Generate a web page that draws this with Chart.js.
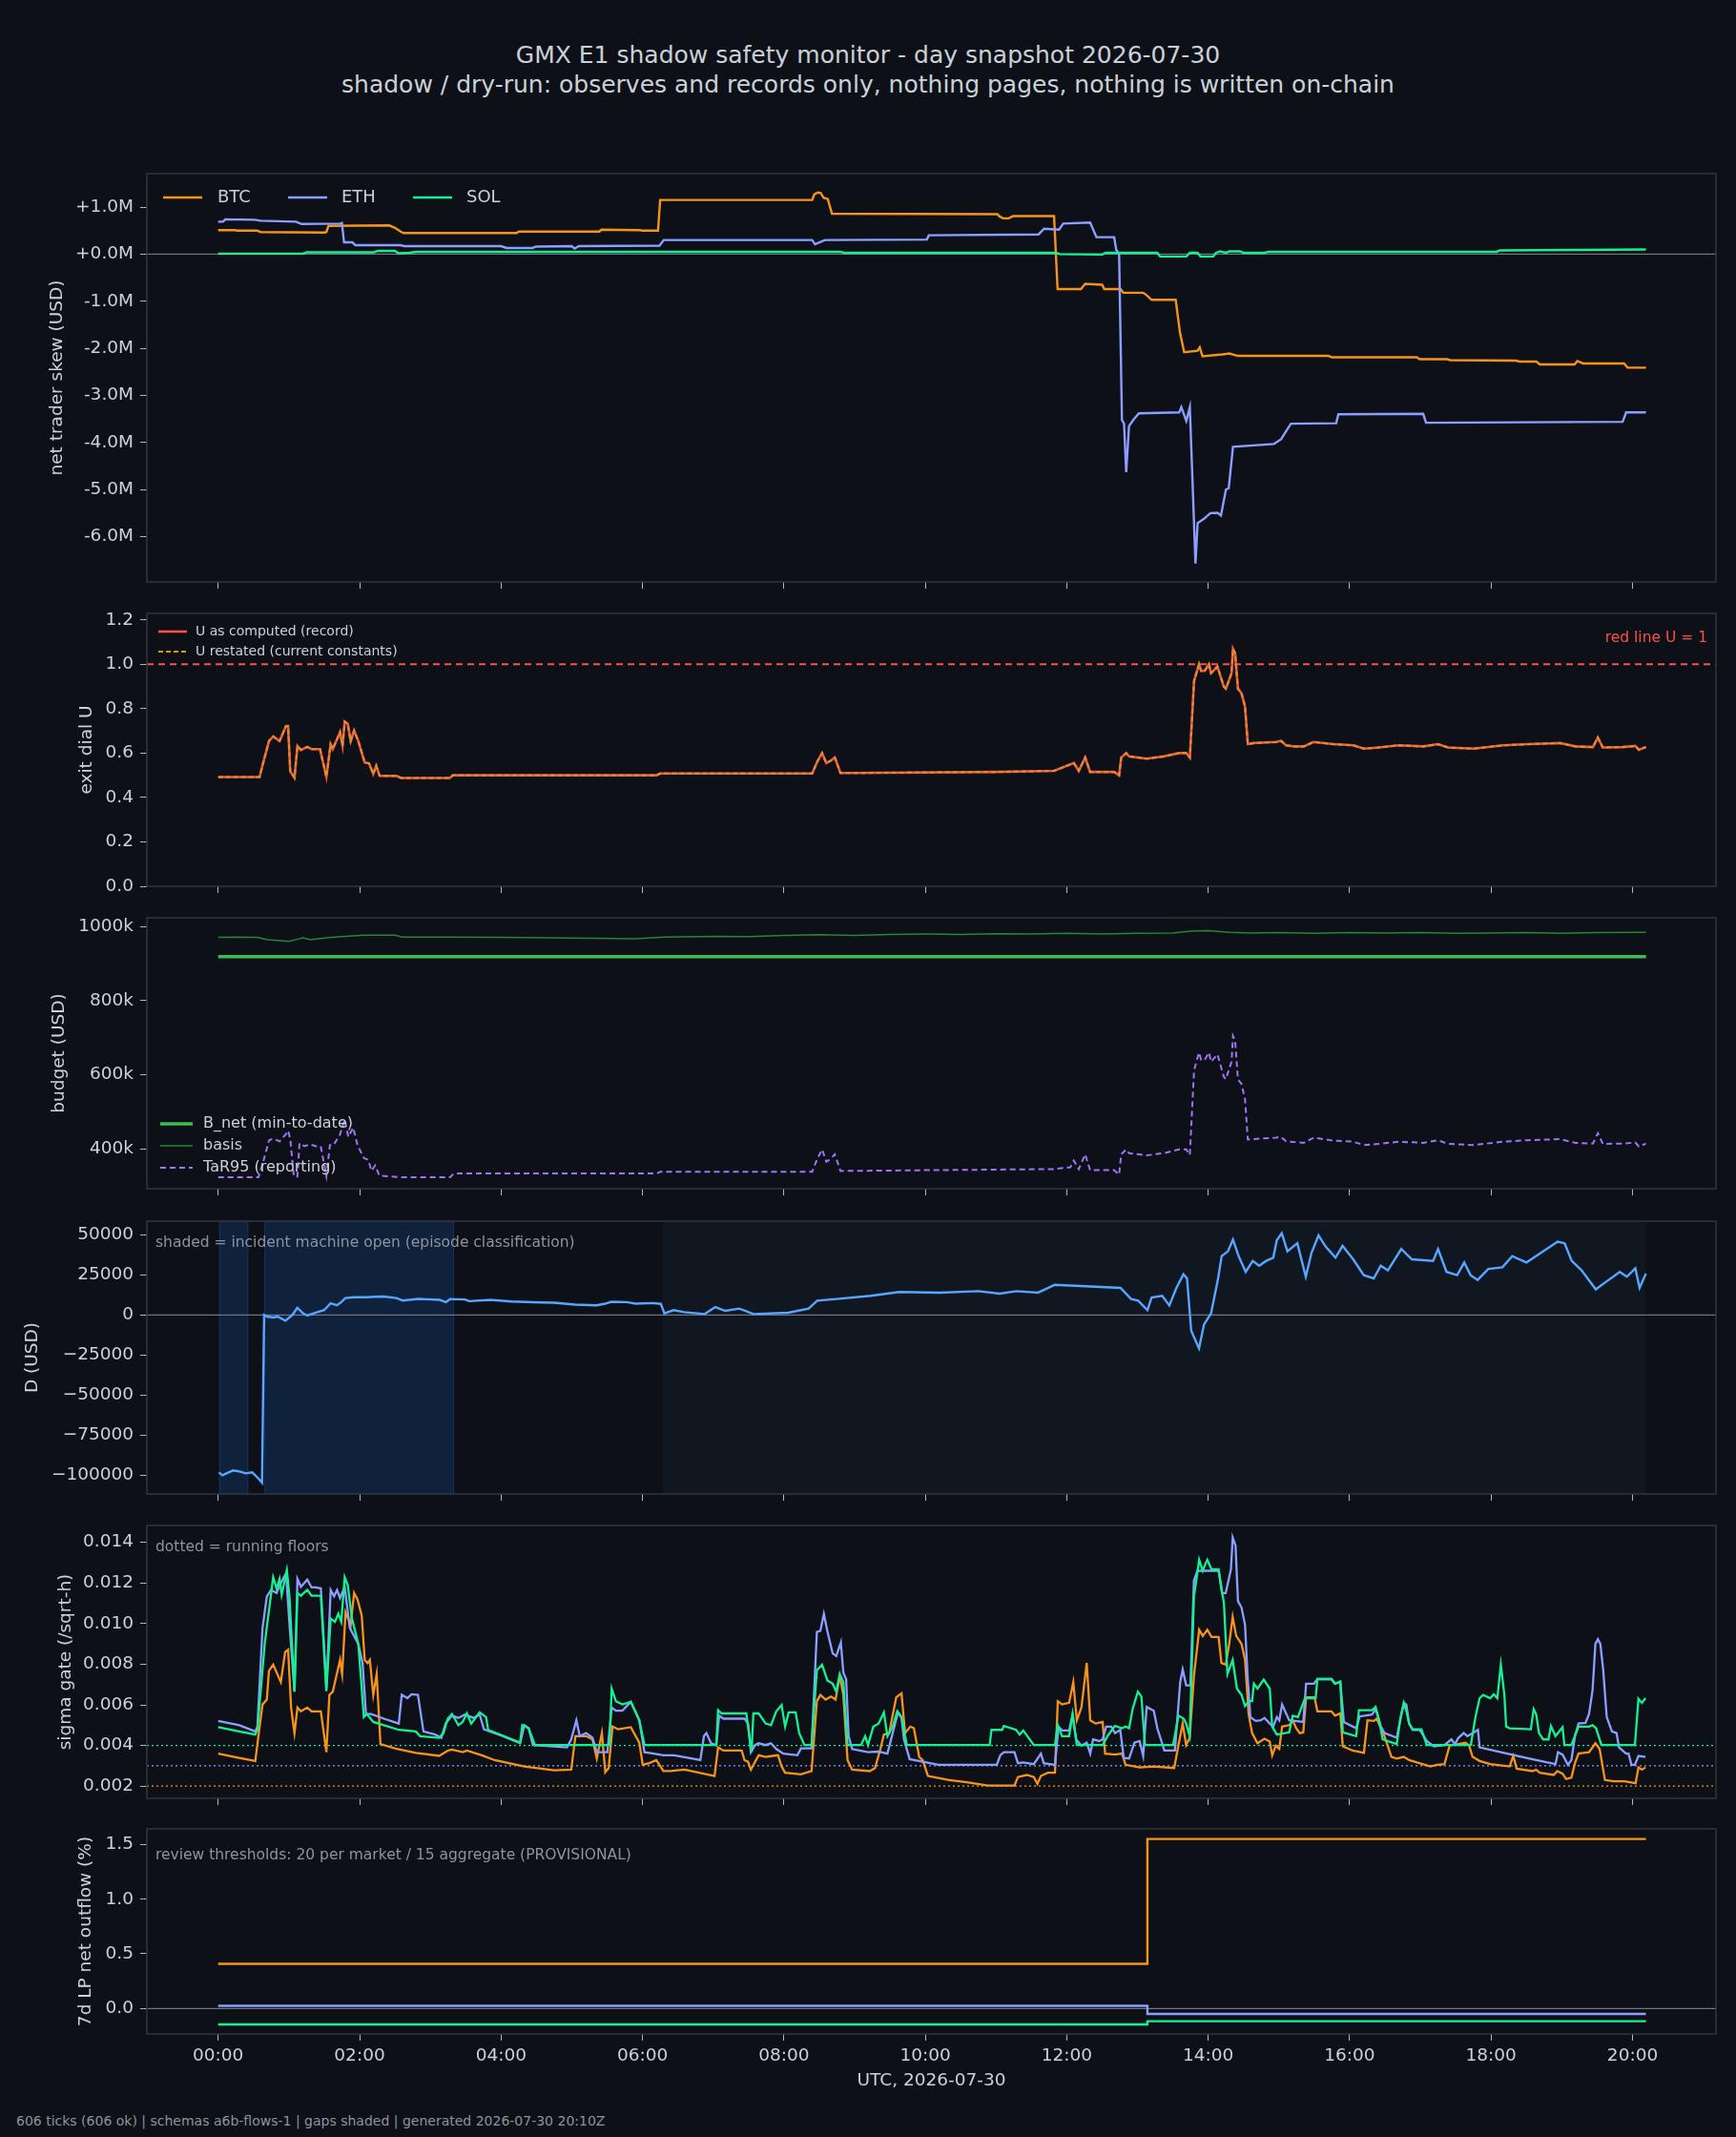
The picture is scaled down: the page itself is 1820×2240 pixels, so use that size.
<!DOCTYPE html>
<html lang="en">
<head>
<meta charset="UTF-8" />
<title>GMX E1 shadow safety monitor - day snapshot 2026-07-30</title>
<script src="https://cdn.jsdelivr.net/npm/chart.js@4.4.1/dist/chart.umd.min.js"></script>
<style>
  body { margin: 0; background: #0d1117; }
  #page { position: relative; width: 1820px; height: 2240px; background: #0d1117; font-family: "DejaVu Sans", sans-serif; color: #c9d1d9; overflow: hidden; }
  #page canvas { position: absolute; left: 0; }
  .title { position: absolute; left: 0; width: 1820px; text-align: center; font-size: 25px; line-height: 30px; }
  #footer { position: absolute; left: 17px; top: 2214px; font-size: 14px; line-height: 18px; color: #8b949e; }
</style>
</head>
<body>
<div id="page">
  <div class="title" style="top:43px">GMX E1 shadow safety monitor - day snapshot 2026-07-30</div>
  <div class="title" style="top:74px">shadow / dry-run: observes and records only, nothing pages, nothing is written on-chain</div>
  <canvas id="skew"></canvas>
  <canvas id="dial"></canvas>
  <canvas id="budget"></canvas>
  <canvas id="dval"></canvas>
  <canvas id="sigma"></canvas>
  <canvas id="flows"></canvas>
  <div id="footer">606 ticks (606 ok) | schemas a6b-flows-1 | gaps shaded | generated 2026-07-30 20:10Z</div>
</div>
<script>
// ---- data: [hour UTC, value] ----
const hourTicks = [0, 2, 4, 6, 8, 10, 12, 14, 16, 18, 20];
const hourLabels = ['00:00', '02:00', '04:00', '06:00', '08:00', '10:00', '12:00', '14:00', '16:00', '18:00', '20:00'];

// net trader skew, USD millions
const skewBTC = [[0,0.51],[0.24,0.51],[0.27,0.50],[0.55,0.50],[0.6,0.47],[1.5,0.46],[1.53,0.47],[1.56,0.60],[2.42,0.61],[2.5,0.56],[2.58,0.48],[2.62,0.45],[4.22,0.45],[4.25,0.48],[5.39,0.48],[5.42,0.52],[5.96,0.51],[6.0,0.50],[6.22,0.50],[6.25,1.15],[8.40,1.15],[8.43,1.27],[8.48,1.31],[8.52,1.30],[8.56,1.20],[8.62,1.17],[8.68,0.86],[11.02,0.85],[11.05,0.80],[11.1,0.76],[11.18,0.76],[11.24,0.81],[11.82,0.81],[11.87,-0.74],[12.2,-0.74],[12.26,-0.63],[12.5,-0.65],[12.53,-0.74],[12.76,-0.74],[12.8,-0.82],[13.08,-0.82],[13.12,-0.86],[13.2,-0.97],[13.54,-0.97],[13.6,-1.66],[13.66,-2.08],[13.85,-2.05],[13.88,-1.98],[13.92,-2.17],[14.2,-2.13],[14.3,-2.11],[14.42,-2.16],[15.7,-2.16],[15.75,-2.19],[16.95,-2.19],[16.99,-2.23],[17.38,-2.23],[17.42,-2.25],[18.35,-2.26],[18.4,-2.28],[18.64,-2.28],[18.69,-2.34],[19.18,-2.34],[19.22,-2.27],[19.3,-2.32],[19.88,-2.32],[19.93,-2.41],[20.19,-2.41]];
const skewETH = [[0,0.69],[0.07,0.69],[0.1,0.74],[0.52,0.73],[0.6,0.71],[1.1,0.69],[1.18,0.64],[1.72,0.65],[1.75,0.66],[1.78,0.25],[1.9,0.25],[1.94,0.19],[2.58,0.19],[2.63,0.17],[4.0,0.17],[4.08,0.13],[4.44,0.13],[4.49,0.16],[5.0,0.17],[5.04,0.12],[5.1,0.17],[6.24,0.18],[6.3,0.30],[8.40,0.30],[8.44,0.21],[8.5,0.25],[8.58,0.30],[10.02,0.31],[10.05,0.40],[11.6,0.42],[11.68,0.54],[11.89,0.52],[11.95,0.65],[12.33,0.67],[12.42,0.36],[12.67,0.36],[12.7,0.09],[12.74,0.0],[12.78,-3.52],[12.81,-3.6],[12.84,-4.63],[12.88,-3.65],[12.95,-3.5],[13.02,-3.38],[13.59,-3.36],[13.62,-3.25],[13.69,-3.54],[13.74,-3.25],[13.82,-6.57],[13.85,-5.71],[13.94,-5.62],[14.03,-5.5],[14.13,-5.49],[14.18,-5.55],[14.25,-5.0],[14.29,-4.97],[14.35,-4.09],[14.93,-4.03],[15.03,-3.93],[15.1,-3.76],[15.17,-3.6],[15.81,-3.59],[15.84,-3.4],[17.04,-3.39],[17.08,-3.58],[19.86,-3.56],[19.91,-3.36],[20.19,-3.36]];
const skewSOL = [[0,0.01],[1.2,0.01],[1.25,0.04],[2.2,0.04],[2.26,0.07],[2.5,0.07],[2.55,0.02],[2.7,0.03],[2.8,0.05],[8.8,0.05],[8.85,0.03],[11.85,0.03],[11.9,0.0],[12.5,-0.01],[12.55,0.03],[13.28,0.03],[13.32,-0.05],[13.69,-0.05],[13.74,0.03],[13.85,0.03],[13.89,-0.05],[14.07,-0.05],[14.11,0.03],[14.17,0.06],[14.25,0.03],[14.3,0.06],[14.45,0.06],[14.5,0.03],[14.8,0.03],[14.85,0.05],[18.08,0.05],[18.12,0.08],[20.19,0.10]];

// exit dial U (restated matches the record tick for tick)
const uComputed = [[0,0.492],[0.585,0.492],[0.628,0.546],[0.718,0.654],[0.778,0.675],[0.868,0.654],[0.959,0.722],[0.989,0.722],[1.019,0.518],[1.079,0.489],[1.121,0.632],[1.17,0.614],[1.26,0.628],[1.32,0.618],[1.44,0.618],[1.53,0.493],[1.59,0.639],[1.62,0.618],[1.723,0.694],[1.759,0.632],[1.789,0.742],[1.832,0.732],[1.874,0.654],[1.922,0.701],[1.982,0.654],[2.072,0.557],[2.133,0.554],[2.193,0.506],[2.235,0.543],[2.283,0.498],[2.524,0.497],[2.584,0.488],[3.277,0.488],[3.318,0.5],[6.2,0.5],[6.25,0.508],[8.4,0.508],[8.47,0.56],[8.54,0.6],[8.6,0.555],[8.66,0.565],[8.72,0.58],[8.8,0.51],[8.9,0.51],[11.0,0.515],[11.82,0.52],[12.1,0.555],[12.17,0.52],[12.26,0.58],[12.33,0.515],[12.67,0.515],[12.74,0.5],[12.77,0.58],[12.84,0.6],[12.88,0.585],[13.13,0.575],[13.37,0.585],[13.59,0.6],[13.69,0.6],[13.74,0.58],[13.8,0.925],[13.87,1.0],[13.9,0.97],[13.95,0.97],[14.01,1.0],[14.04,0.96],[14.13,0.99],[14.22,0.9],[14.25,0.89],[14.33,0.96],[14.35,1.07],[14.38,1.05],[14.42,0.89],[14.47,0.87],[14.52,0.81],[14.56,0.64],[14.64,0.645],[14.96,0.65],[15.03,0.655],[15.1,0.635],[15.21,0.63],[15.35,0.63],[15.49,0.65],[15.77,0.64],[16.05,0.635],[16.2,0.62],[16.41,0.625],[16.69,0.635],[17.04,0.63],[17.25,0.64],[17.39,0.625],[17.75,0.62],[18.17,0.635],[18.52,0.64],[18.98,0.645],[19.19,0.63],[19.44,0.627],[19.51,0.67],[19.58,0.625],[19.86,0.627],[20.04,0.632],[20.09,0.615],[20.19,0.627]];
const uRestated = uComputed;
const redLineU = 1;

// budget, USD thousands
const bNet = [[0,919],[20.19,919]];
const basis = [[0,971],[0.2,972],[0.55,971],[0.7,965],[1.0,960],[1.1,965],[1.2,970],[1.3,965],[1.6,971],[2.05,977],[2.5,977],[2.6,972],[3.3,972],[4.0,971],[5.0,969],[5.9,967],[6.3,972],[7.0,974],[7.5,973],[8.0,976],[8.5,978],[9.0,976],[9.5,979],[10.0,980],[10.5,979],[11.0,981],[11.5,980],[12.0,982],[12.5,980],[13.0,982],[13.5,983],[13.75,988],[14.0,989],[14.3,985],[14.6,983],[15.0,984],[15.5,982],[16.0,984],[16.5,983],[17.0,984],[17.5,982],[18.0,983],[18.5,984],[19.0,982],[19.5,984],[20.19,985]];
const tar95 = [[0,323],[0.57,323],[0.63,360],[0.72,423],[0.78,427],[0.87,420],[0.96,440],[0.99,449],[1.02,425],[1.07,325],[1.12,325],[1.15,415],[1.22,407],[1.3,412],[1.38,407],[1.45,407],[1.53,326],[1.58,410],[1.63,410],[1.72,437],[1.79,479],[1.84,432],[1.91,457],[1.97,410],[2.06,375],[2.12,370],[2.17,340],[2.22,355],[2.28,327],[2.6,323],[3.28,323],[3.33,333],[6.2,333],[6.25,338],[8.4,338],[8.47,372],[8.54,398],[8.6,365],[8.66,372],[8.72,385],[8.8,340],[11.82,345],[12.05,350],[12.1,368],[12.17,345],[12.26,385],[12.33,342],[12.67,342],[12.74,330],[12.77,385],[12.84,398],[12.88,388],[13.13,382],[13.37,388],[13.59,398],[13.69,398],[13.74,383],[13.8,612],[13.87,660],[13.9,640],[13.95,640],[14.01,660],[14.04,635],[14.13,655],[14.22,595],[14.25,588],[14.33,635],[14.35,705],[14.38,693],[14.42,588],[14.47,575],[14.52,535],[14.56,425],[14.64,426],[14.96,430],[15.03,432],[15.1,420],[15.35,416],[15.49,430],[15.77,422],[16.05,419],[16.2,410],[16.41,413],[16.69,419],[17.04,416],[17.25,423],[17.39,413],[17.75,410],[18.17,419],[18.52,423],[18.98,426],[19.19,416],[19.44,414],[19.51,442],[19.58,413],[19.86,414],[20.04,417],[20.09,406],[20.19,414]];

// D, USD
const dUsd = [[0.01,-98200],[0.06,-100000],[0.21,-97000],[0.30,-97600],[0.39,-98800],[0.48,-98200],[0.52,-99800],[0.58,-102600],[0.62,-104600],[0.65,0],[0.69,-1000],[0.78,-1600],[0.84,-1000],[0.95,-3600],[1.05,0],[1.12,4400],[1.2,1000],[1.26,-400],[1.38,1400],[1.5,3000],[1.59,7300],[1.68,6000],[1.74,8000],[1.8,10500],[1.92,11000],[2.1,11000],[2.22,11300],[2.34,11500],[2.52,10500],[2.61,9000],[2.83,10000],[2.95,9800],[3.13,9400],[3.22,8000],[3.28,9900],[3.49,9600],[3.55,8600],[3.85,9400],[4.15,8400],[4.57,7800],[4.75,7600],[5.05,6400],[5.35,6000],[5.47,7000],[5.56,8200],[5.78,8000],[5.9,7000],[6.14,7400],[6.26,6900],[6.31,1000],[6.44,3000],[6.59,1750],[6.88,560],[7.03,4900],[7.17,2560],[7.37,3950],[7.57,560],[8.06,1400],[8.35,3950],[8.47,8900],[8.74,9900],[9.23,11900],[9.63,14300],[10.21,13900],[10.75,14860],[11.05,13300],[11.29,14860],[11.59,13900],[11.69,15850],[11.83,18800],[12.27,17850],[12.76,16850],[12.91,9900],[13.01,8900],[13.14,3000],[13.2,10900],[13.35,11900],[13.45,5900],[13.55,16850],[13.65,25400],[13.7,22800],[13.76,-9960],[13.87,-20900],[13.94,-6000],[14.04,950],[14.14,22800],[14.19,36700],[14.28,39700],[14.35,47000],[14.43,36700],[14.53,26800],[14.63,33700],[14.72,30700],[14.82,33700],[14.92,35700],[14.97,46600],[15.04,51000],[15.12,39700],[15.26,44700],[15.38,23800],[15.46,38700],[15.56,49600],[15.66,42700],[15.8,35700],[15.9,43100],[16.05,34700],[16.2,24800],[16.34,22800],[16.44,30700],[16.54,27800],[16.73,41100],[16.88,34700],[17.18,33700],[17.25,41100],[17.37,26800],[17.52,24800],[17.62,32700],[17.71,24800],[17.81,21800],[17.96,28700],[18.16,29700],[18.3,36700],[18.5,32700],[18.74,39700],[18.94,45700],[19.04,44700],[19.14,33700],[19.28,27800],[19.48,15900],[19.63,20800],[19.82,26800],[19.92,23800],[20.04,29100],[20.1,16850],[20.19,25800]];
const incidentOpen = [[0.02, 0.42], [0.66, 3.33]];
const incidentLate = [[6.29, 20.18]];

// sigma gate, units of 1e-3 /sqrt-h
const sigmaBTC = [[0,3.6],[0.296,3.39],[0.525,3.24],[0.555,4.07],[0.627,6.02],[0.688,6.26],[0.718,7.67],[0.778,7.98],[0.886,7.12],[0.947,8.6],[0.989,8.71],[1.031,5.87],[1.079,4.61],[1.121,5.87],[1.17,5.68],[1.26,5.87],[1.32,5.68],[1.452,5.68],[1.53,3.67],[1.573,6.49],[1.621,6.65],[1.723,8.21],[1.753,7.51],[1.801,10.56],[1.874,9.93],[1.922,11.5],[1.97,11.19],[2.03,10.4],[2.072,8.21],[2.114,8.06],[2.145,8.21],[2.193,6.49],[2.241,7.51],[2.295,4.07],[2.524,3.83],[2.795,3.64],[3.126,3.49],[3.246,3.75],[3.307,3.8],[3.457,3.67],[3.517,3.75],[3.728,3.52],[3.909,3.28],[4.33,2.97],[4.752,2.78],[4.992,2.81],[5.052,4.46],[5.203,4.46],[5.293,4.3],[5.354,3.36],[5.426,4.61],[5.474,2.69],[5.522,2.89],[5.576,4.93],[5.655,4.8],[5.835,4.9],[5.955,4.14],[6.004,3.05],[6.096,3.13],[6.196,3.28],[6.296,2.74],[6.395,2.74],[6.595,2.81],[7.019,2.5],[7.069,3.91],[7.144,3.75],[7.403,3.75],[7.443,3.28],[7.493,3.2],[7.533,2.81],[7.593,3.2],[7.643,3.52],[7.742,3.44],[7.842,3.49],[7.917,3.52],[7.967,2.97],[8.017,2.66],[8.241,2.58],[8.391,2.74],[8.466,6.18],[8.516,6.49],[8.59,6.26],[8.665,6.41],[8.73,6.26],[8.79,7.43],[8.84,6.49],[8.9,3.28],[8.965,2.81],[9.214,2.74],[9.289,2.89],[9.364,3.83],[9.414,4.54],[9.488,4.61],[9.588,6.37],[9.663,6.57],[9.713,4.61],[9.788,4.93],[9.838,4.85],[9.913,3.44],[9.962,3.28],[10.037,2.5],[10.337,2.3],[10.586,2.19],[10.885,2.03],[11.26,2.03],[11.309,2.45],[11.434,2.55],[11.534,2.45],[11.584,2.11],[11.634,2.5],[11.733,2.66],[11.833,2.66],[11.873,6.18],[11.933,6.02],[12.033,6.1],[12.092,7.12],[12.142,5.24],[12.207,5.87],[12.282,8.06],[12.332,5.24],[12.407,5.08],[12.507,5.16],[12.542,3.6],[12.681,3.55],[12.781,3.6],[12.831,3.05],[13.03,2.92],[13.23,2.97],[13.519,2.89],[13.579,4.02],[13.639,5.08],[13.688,4.02],[13.738,4.38],[13.798,7.43],[13.872,9.7],[13.922,9.39],[13.987,9.7],[14.047,9.34],[14.147,9.34],[14.187,8.06],[14.247,7.98],[14.297,9.0],[14.346,10.33],[14.396,9.39],[14.471,9.0],[14.521,8.21],[14.571,5.55],[14.621,4.61],[14.696,4.11],[14.795,4.33],[14.87,4.19],[14.905,3.52],[14.955,3.99],[15.005,3.83],[15.045,4.93],[15.145,5.0],[15.195,5.24],[15.244,4.85],[15.294,4.61],[15.344,4.64],[15.384,6.37],[15.504,6.37],[15.544,5.68],[15.743,5.68],[15.793,5.47],[15.868,5.58],[15.903,3.96],[16.043,3.75],[16.202,3.64],[16.252,5.24],[16.342,5.21],[16.382,5.32],[16.432,4.93],[16.492,4.46],[16.591,3.44],[16.666,3.36],[16.766,3.44],[16.841,3.28],[17.14,2.97],[17.24,3.05],[17.34,3.08],[17.414,4.0],[17.639,4.14],[17.689,4.0],[17.739,3.44],[17.838,3.24],[17.988,3.08],[18.263,2.97],[18.313,3.49],[18.362,2.86],[18.587,2.74],[18.637,2.81],[18.687,2.66],[18.886,2.55],[18.936,2.74],[19.011,2.61],[19.061,2.35],[19.136,2.42],[19.186,3.13],[19.236,3.6],[19.385,3.67],[19.435,3.91],[19.475,4.11],[19.535,3.83],[19.61,2.3],[19.734,2.24],[19.884,2.24],[20.044,2.14],[20.084,2.92],[20.133,2.81],[20.183,2.92]];
const sigmaETH = [[0,5.21],[0.3,5.0],[0.525,4.69],[0.555,4.93],[0.627,9.78],[0.688,11.34],[0.748,11.66],[0.826,11.5],[0.868,11.89],[0.959,12.47],[1.019,9.46],[1.079,6.65],[1.121,12.2],[1.17,11.81],[1.26,12.17],[1.32,11.78],[1.38,11.78],[1.452,11.73],[1.53,6.8],[1.591,11.65],[1.639,11.34],[1.681,11.65],[1.723,11.26],[1.789,11.81],[1.862,9.78],[1.982,9.0],[2.042,8.06],[2.09,5.55],[2.163,5.55],[2.343,5.32],[2.554,5.08],[2.596,6.5],[2.675,6.33],[2.735,6.52],[2.825,6.49],[2.903,4.69],[3.066,4.54],[3.156,4.38],[3.216,5.08],[3.307,5.47],[3.397,5.36],[3.487,5.52],[3.608,5.36],[3.698,5.52],[3.758,4.8],[4.029,4.46],[4.27,4.11],[4.33,5.0],[4.39,4.85],[4.45,4.02],[4.932,3.91],[4.992,4.3],[5.065,5.24],[5.113,4.46],[5.203,4.61],[5.293,4.38],[5.354,3.67],[5.504,3.67],[5.564,5.87],[5.624,5.71],[5.715,5.71],[5.835,6.15],[5.955,5.24],[6.028,3.67],[6.096,3.64],[6.296,3.52],[6.445,3.52],[6.595,3.42],[6.819,3.28],[6.869,4.46],[6.904,4.61],[6.969,4.11],[7.044,4.02],[7.084,5.47],[7.144,5.32],[7.443,5.32],[7.493,5.08],[7.533,3.67],[7.593,4.02],[7.643,4.11],[7.742,4.02],[7.817,4.11],[7.892,3.83],[7.992,3.6],[8.191,3.52],[8.241,3.86],[8.391,3.86],[8.466,9.59],[8.516,9.65],[8.565,10.48],[8.615,9.62],[8.69,8.53],[8.74,8.4],[8.805,9.07],[8.84,7.59],[8.88,7.27],[8.915,4.46],[8.965,3.83],[9.189,3.67],[9.339,3.7],[9.464,3.6],[9.538,4.61],[9.613,5.63],[9.663,5.36],[9.698,4.3],[9.778,3.33],[9.962,3.2],[10.187,3.05],[11.01,3.05],[11.06,3.52],[11.11,3.67],[11.26,3.67],[11.309,3.13],[11.384,3.17],[11.534,3.08],[11.634,3.6],[11.674,3.13],[11.833,3.05],[11.883,4.93],[11.933,4.74],[12.033,4.74],[12.082,5.52],[12.132,4.3],[12.207,3.99],[12.282,4.14],[12.332,3.6],[12.372,4.3],[12.457,4.22],[12.507,4.3],[12.557,4.93],[12.631,4.93],[12.681,4.61],[12.756,4.77],[12.806,3.39],[12.881,3.36],[12.956,4.14],[13.03,4.22],[13.08,3.49],[13.13,5.9],[13.23,5.71],[13.28,4.85],[13.38,3.75],[13.529,3.75],[13.604,7.12],[13.639,7.74],[13.688,6.96],[13.748,6.96],[13.798,12.13],[13.848,12.6],[14.147,12.6],[14.197,11.5],[14.247,11.5],[14.321,12.67],[14.346,14.24],[14.386,13.85],[14.421,11.1],[14.471,10.79],[14.521,9.93],[14.556,7.43],[14.596,5.4],[14.671,5.21],[14.746,5.24],[14.795,5.36],[14.87,5.08],[14.92,4.93],[14.97,5.4],[15.005,5.24],[15.045,6.02],[15.095,5.63],[15.145,5.24],[15.344,5.16],[15.384,7.04],[15.494,7.04],[15.544,7.27],[15.743,7.27],[15.793,7.04],[15.868,7.12],[15.918,5.16],[16.092,4.85],[16.142,5.43],[16.317,5.52],[16.367,5.79],[16.442,4.93],[16.492,4.61],[16.666,4.38],[16.716,5.24],[16.766,6.1],[16.801,6.02],[16.841,5.08],[16.891,4.77],[16.99,4.77],[17.09,4.22],[17.19,3.96],[17.34,4.02],[17.439,4.3],[17.489,4.07],[17.539,4.38],[17.614,4.61],[17.664,4.46],[17.739,4.61],[17.814,4.77],[17.838,3.91],[18.138,3.67],[18.437,3.44],[18.637,3.28],[18.911,3.08],[18.946,3.67],[19.011,3.55],[19.086,3.05],[19.136,3.28],[19.186,4.46],[19.236,5.08],[19.335,5.11],[19.385,5.55],[19.435,6.72],[19.475,9.0],[19.51,9.23],[19.545,9.0],[19.585,7.74],[19.635,5.4],[19.709,4.69],[19.774,4.61],[19.809,3.91],[19.909,3.6],[19.944,3.6],[19.984,3.05],[20.034,3.05],[20.084,3.49],[20.183,3.44]];
const sigmaSOL = [[0,4.9],[0.296,4.69],[0.525,4.54],[0.555,4.77],[0.658,9.0],[0.778,12.28],[0.826,11.73],[0.868,12.2],[0.898,11.42],[0.971,12.63],[1.007,11.37],[1.079,6.65],[1.121,11.5],[1.17,11.37],[1.26,11.66],[1.32,11.37],[1.452,11.37],[1.53,6.68],[1.591,10.25],[1.651,10.09],[1.699,10.48],[1.741,10.09],[1.789,12.28],[1.832,11.89],[1.892,10.25],[1.982,9.0],[2.03,6.8],[2.06,5.4],[2.102,5.55],[2.193,5.16],[2.554,4.77],[2.795,4.69],[2.855,4.46],[3.126,4.38],[3.186,4.61],[3.246,5.32],[3.307,5.55],[3.397,5.0],[3.457,5.16],[3.517,5.58],[3.578,5.08],[3.698,5.63],[3.788,5.4],[3.818,4.77],[4.27,4.14],[4.3,5.0],[4.39,4.85],[4.48,4.02],[5.534,4.02],[5.564,6.8],[5.624,6.18],[5.715,6.02],[5.835,6.15],[5.895,5.71],[5.955,5.24],[6.028,4.02],[7.044,4.02],[7.069,5.74],[7.119,5.58],[7.468,5.58],[7.518,4.3],[7.543,3.67],[7.568,5.58],[7.643,5.58],[7.742,5.08],[7.817,5.0],[7.892,5.68],[7.967,5.99],[8.017,4.93],[8.067,5.63],[8.166,5.63],[8.216,4.61],[8.291,4.02],[8.391,4.02],[8.466,7.71],[8.54,7.98],[8.615,7.2],[8.69,7.04],[8.74,6.65],[8.79,7.51],[8.84,7.12],[8.9,4.02],[9.09,4.02],[9.149,4.46],[9.189,4.02],[9.264,4.93],[9.339,5.08],[9.414,5.63],[9.464,4.46],[9.538,4.93],[9.603,5.68],[9.663,5.4],[9.738,4.02],[10.91,4.02],[10.935,4.77],[11.085,4.77],[11.11,4.96],[11.284,4.77],[11.334,4.54],[11.384,4.74],[11.534,4.02],[11.833,4.02],[11.873,5.0],[11.933,4.46],[12.033,4.46],[12.082,5.55],[12.142,4.02],[12.507,4.02],[12.581,4.49],[12.681,4.96],[12.781,4.85],[12.831,4.93],[12.881,4.85],[12.931,5.79],[13.005,6.65],[13.055,6.41],[13.105,4.02],[13.504,4.02],[13.579,5.47],[13.654,5.32],[13.688,5.08],[13.738,4.46],[13.798,11.34],[13.838,12.28],[13.872,13.14],[13.922,12.6],[13.957,12.91],[13.987,13.14],[14.047,12.67],[14.147,12.67],[14.197,11.5],[14.222,11.03],[14.272,7.51],[14.346,8.21],[14.406,6.8],[14.471,6.49],[14.521,5.94],[14.571,6.18],[14.621,6.18],[14.646,7.04],[14.696,6.8],[14.785,7.24],[14.87,6.8],[14.905,4.93],[14.97,4.54],[15.145,4.65],[15.195,5.47],[15.269,5.4],[15.369,6.33],[15.519,6.33],[15.544,7.27],[15.743,7.27],[15.793,7.04],[15.868,7.15],[15.903,4.65],[16.092,4.46],[16.132,5.74],[16.317,5.74],[16.367,5.9],[16.417,5.24],[16.467,4.3],[16.666,4.07],[16.716,5.32],[16.766,6.1],[16.801,5.71],[16.841,5.08],[16.891,4.8],[17.015,4.8],[17.09,4.02],[17.714,4.02],[17.779,5.4],[17.838,6.33],[17.888,6.49],[17.988,6.33],[18.038,6.52],[18.088,6.33],[18.138,7.98],[18.188,6.49],[18.213,4.93],[18.263,4.85],[18.562,4.8],[18.602,5.79],[18.637,5.55],[18.677,4.61],[18.737,4.3],[18.812,4.3],[18.846,4.96],[18.911,4.46],[19.011,4.9],[19.036,4.02],[19.136,4.02],[19.236,4.93],[19.385,4.93],[19.435,5.0],[19.485,4.85],[19.56,4.02],[20.034,4.02],[20.084,6.3],[20.133,6.1],[20.183,6.33]];
const sigmaFloors = [2, 3, 4]; // BTC, ETH, SOL running floors

// 7d LP net outflow, %
const flowBTC = [[0,0.408],[13.14,1.55],[20.19,1.55]];
const flowETH = [[0,0.024],[13.14,-0.05],[20.19,-0.05]];
const flowSOL = [[0,-0.146],[13.14,-0.116],[20.19,-0.116]];

// ---- styling ----
const TEXT = '#c9d1d9', MUTED = '#8b949e', FRAME = '#30363d', ZERO = '#6e7681', TICK = '#b1bac4';
const BTC_C = '#f7931a', ETH_C = '#8c9eff', SOL_C = '#14f195';
const RED = '#f85149', GOLD = '#d29922', PURPLE = '#a371f7', BLUE = '#58a6ff';
const X_MIN = -1.008, X_MAX = 21.18;

Chart.defaults.font.family = '"DejaVu Sans"';

function pts(arr) { return arr.map(p => ({x: p[0], y: p[1]})); }
function hline(y) { return [[X_MIN, y], [X_MAX, y]]; }
function series(label, data, color, width, order, extra) {
  return Object.assign({label, data: pts(data), borderColor: color, borderWidth: width,
    pointRadius: 0, fill: false, tension: 0, order}, extra || {});
}

function xScale(showLabels, height) {
  return {
    type: 'linear', min: X_MIN, max: X_MAX,
    afterBuildTicks: s => { s.ticks = hourTicks.map(v => ({value: v})); },
    afterFit: s => { s.height = height; },
    ticks: {display: showLabels, color: TEXT, font: {size: 18.5}, padding: 5, maxRotation: 0, autoSkip: false,
      callback: v => hourLabels[hourTicks.indexOf(v)]},
    grid: {drawOnChartArea: false, drawTicks: true, tickLength: 7, tickColor: TICK, tickWidth: 1},
    border: {display: false},
    title: {display: showLabels, text: 'UTC, 2026-07-30', color: TEXT, font: {size: 18.5}, padding: {top: 0, bottom: 20}}
  };
}

function yScale(c) {
  return {
    type: 'linear', min: c.min, max: c.max,
    afterBuildTicks: s => { s.ticks = c.ticks.map(v => ({value: v})); },
    afterFit: s => { s.width = 154; },
    ticks: {color: TEXT, font: {size: 18.5}, padding: 7, autoSkip: false, callback: (v, i) => c.labels[i]},
    grid: {drawOnChartArea: false, drawTicks: true, tickLength: 7, tickColor: TICK, tickWidth: 1},
    border: {display: false},
    title: {display: true, text: c.title, color: TEXT, font: {size: 18.5}, padding: {top: c.titleX - 11.1, bottom: 0}}
  };
}

// frame, in-axes legend, notes and shaded spans
function overlay(deco, top) {
  return {
    id: 'overlay',
    beforeDatasetsDraw(chart) {
      const {ctx, chartArea: a, scales: {x}} = chart;
      (deco.spans || []).forEach(s => {
        const x0 = x.getPixelForValue(s.range[0]), x1 = x.getPixelForValue(s.range[1]);
        ctx.save();
        ctx.fillStyle = s.color;
        ctx.fillRect(x0, a.top, x1 - x0, a.bottom - a.top);
        if (s.edge) {
          ctx.strokeStyle = s.edge; ctx.lineWidth = 1;
          ctx.strokeRect(x0, a.top, x1 - x0, a.bottom - a.top);
        }
        ctx.restore();
      });
    },
    afterDraw(chart) {
      const {ctx, chartArea: a} = chart;
      ctx.save();
      ctx.strokeStyle = FRAME; ctx.lineWidth = 1.5;
      ctx.strokeRect(a.left, a.top, a.right - a.left, a.bottom - a.top);
      (deco.legend || []).forEach(e => {
        const y = e.y - top;
        ctx.beginPath();
        ctx.setLineDash(e.dash || []);
        ctx.strokeStyle = e.color; ctx.lineWidth = e.width;
        ctx.moveTo(e.x, y); ctx.lineTo(e.x + e.len, y); ctx.stroke();
        ctx.setLineDash([]);
        ctx.fillStyle = TEXT; ctx.font = e.size + 'px "DejaVu Sans"';
        ctx.textBaseline = 'middle'; ctx.textAlign = 'left';
        ctx.fillText(e.label, e.tx, y);
      });
      (deco.notes || []).forEach(n => {
        ctx.fillStyle = n.color; ctx.font = n.size + 'px "DejaVu Sans"';
        ctx.textBaseline = 'middle'; ctx.textAlign = n.align || 'left';
        ctx.fillText(n.text, n.x, n.y - top);
      });
      ctx.restore();
    }
  };
}

function panel(id, box, yCfg, datasets, deco) {
  const canvas = document.getElementById(id);
  const padTop = 22;
  const xh = box.axisH || 20;   // must exceed the y scale's bottom label padding
  const top = box.top - padTop;
  const h = padTop + (box.bottom - box.top) + xh;
  canvas.width = 1820; canvas.height = h;
  canvas.style.top = top + 'px';
  new Chart(canvas, {
    type: 'line',
    data: {datasets},
    options: {
      responsive: false, animation: false, devicePixelRatio: 1,
      layout: {padding: {left: 0, right: 21, top: padTop, bottom: 0}},
      plugins: {legend: {display: false}, tooltip: {enabled: false}},
      scales: {x: xScale(!!box.labels, xh), y: yScale(yCfg)}
    },
    plugins: [overlay(deco, top)]
  });
}

// 1. net trader skew
panel('skew', {top: 182, bottom: 610},
  {min: -6.96, max: 1.71, ticks: [-6, -5, -4, -3, -2, -1, 0, 1],
   labels: ['-6.0M', '-5.0M', '-4.0M', '-3.0M', '-2.0M', '-1.0M', '+0.0M', '+1.0M'],
   title: 'net trader skew (USD)', titleX: 60},
  [series('zero', hline(0), ZERO, 1.2, 9),
   series('BTC', skewBTC, BTC_C, 2.4, 3),
   series('ETH', skewETH, ETH_C, 2.4, 2),
   series('SOL', skewSOL, SOL_C, 2.4, 1)],
  {legend: [
    {label: 'BTC', color: BTC_C, width: 2.6, x: 171, len: 41, tx: 228, y: 207, size: 18},
    {label: 'ETH', color: ETH_C, width: 2.6, x: 302, len: 41, tx: 358, y: 207, size: 18},
    {label: 'SOL', color: SOL_C, width: 2.6, x: 433, len: 41, tx: 489, y: 207, size: 18}]});

// 2. exit dial U
panel('dial', {top: 643, bottom: 929},
  {min: 0, max: 1.229, ticks: [0, 0.2, 0.4, 0.6, 0.8, 1.0, 1.2],
   labels: ['0.0', '0.2', '0.4', '0.6', '0.8', '1.0', '1.2'], title: 'exit dial U', titleX: 91.5},
  [series('red line', hline(redLineU), RED, 2, 9, {borderDash: [7, 5]}),
   series('U as computed (record)', uComputed, RED, 2.6, 2),
   series('U restated (current constants)', uRestated, GOLD, 2, 1, {borderDash: [5, 3]})],
  {legend: [
    {label: 'U as computed (record)', color: RED, width: 2.6, x: 166, len: 30, tx: 205, y: 662, size: 14},
    {label: 'U restated (current constants)', color: GOLD, width: 2, dash: [5, 3], x: 166, len: 30, tx: 205, y: 683, size: 14}],
   notes: [{text: 'red line U = 1', x: 1790, y: 669, color: RED, size: 15.5, align: 'right'}]});

// 3. budget
panel('budget', {top: 962, bottom: 1246},
  {min: 292, max: 1024, ticks: [400, 600, 800, 1000],
   labels: ['400k', '600k', '800k', '1000k'], title: 'budget (USD)', titleX: 62.5},
  [series('B_net (min-to-date)', bNet, '#3fb950', 3.6, 3),
   series('basis', basis, '#238636', 1.5, 2),
   series('TaR95 (reporting)', tar95, PURPLE, 2, 1, {borderDash: [6, 4]})],
  {legend: [
    {label: 'B_net (min-to-date)', color: '#3fb950', width: 3.6, x: 168, len: 34, tx: 213, y: 1178, size: 16},
    {label: 'basis', color: '#238636', width: 1.5, x: 168, len: 34, tx: 213, y: 1201, size: 16},
    {label: 'TaR95 (reporting)', color: PURPLE, width: 2, dash: [6, 4], x: 168, len: 34, tx: 213, y: 1224, size: 16}]});

// 4. D
panel('dval', {top: 1280, bottom: 1566},
  {min: -111700, max: 58500, ticks: [-100000, -75000, -50000, -25000, 0, 25000, 50000],
   labels: ['\u2212100000', '\u221275000', '\u221250000', '\u221225000', '0', '25000', '50000'],
   title: 'D (USD)', titleX: 34},
  [series('zero', hline(0), ZERO, 1.2, 9),
   series('D', dUsd, BLUE, 2.4, 1)],
  {spans: incidentOpen.map(r => ({range: r, color: 'rgba(31,111,235,0.18)', edge: 'rgba(31,111,235,0.3)'}))
     .concat(incidentLate.map(r => ({range: r, color: 'rgba(88,166,255,0.045)'}))),
   notes: [{text: 'shaded = incident machine open (episode classification)', x: 163, y: 1303, color: MUTED, size: 15.5}]});

// 5. sigma gate
panel('sigma', {top: 1599, bottom: 1885},
  {min: 1.4, max: 14.83, ticks: [2, 4, 6, 8, 10, 12, 14],
   labels: ['0.002', '0.004', '0.006', '0.008', '0.010', '0.012', '0.014'],
   title: 'sigma gate (/sqrt-h)', titleX: 69},
  [series('BTC floor', hline(sigmaFloors[0]), BTC_C, 1.2, 10, {borderDash: [2, 3]}),
   series('ETH floor', hline(sigmaFloors[1]), ETH_C, 1.2, 9, {borderDash: [2, 3]}),
   series('SOL floor', hline(sigmaFloors[2]), SOL_C, 1.2, 8, {borderDash: [2, 3]}),
   series('BTC', sigmaBTC, BTC_C, 2.3, 3),
   series('ETH', sigmaETH, ETH_C, 2.3, 2),
   series('SOL', sigmaSOL, SOL_C, 2.3, 1)],
  {notes: [{text: 'dotted = running floors', x: 163, y: 1622, color: MUTED, size: 15.5}]});

// 6. 7d LP net outflow
panel('flows', {top: 1917, bottom: 2132, axisH: 80, labels: true},
  {min: -0.233, max: 1.643, ticks: [0, 0.5, 1.0, 1.5],
   labels: ['0.0', '0.5', '1.0', '1.5'], title: '7d LP net outflow (%)', titleX: 90},
  [series('zero', hline(0), ZERO, 1.2, 9),
   series('BTC', flowBTC, BTC_C, 2.4, 3, {stepped: 'before'}),
   series('ETH', flowETH, ETH_C, 2.4, 2, {stepped: 'before'}),
   series('SOL', flowSOL, SOL_C, 2.4, 1, {stepped: 'before'})],
  {notes: [{text: 'review thresholds: 20 per market / 15 aggregate (PROVISIONAL)', x: 163, y: 1945, color: MUTED, size: 15.5}]});
</script>
</body>
</html>
